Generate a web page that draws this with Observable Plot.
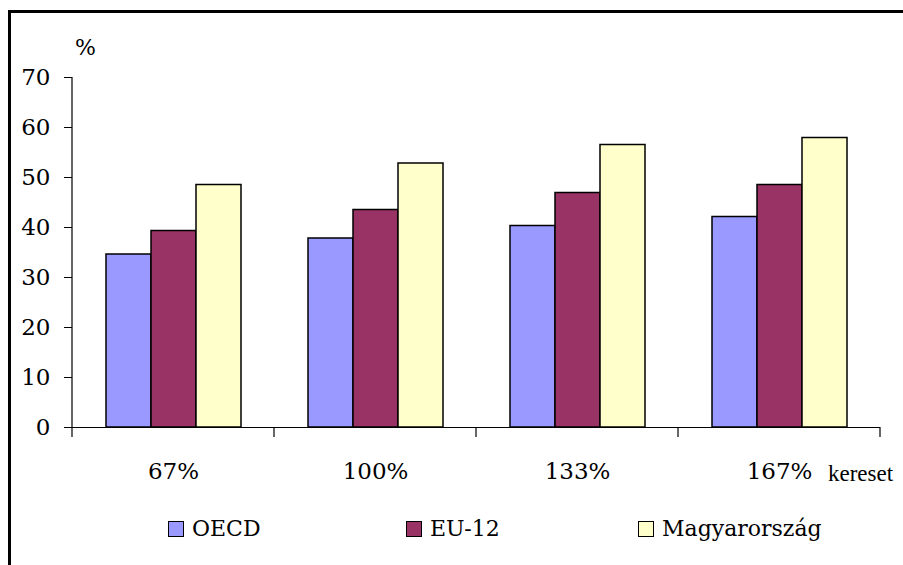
<!DOCTYPE html>
<html>
<head>
<meta charset="utf-8">
<script src="https://cdn.jsdelivr.net/npm/d3@7"></script>
<script src="https://cdn.jsdelivr.net/npm/@observablehq/plot@0.6"></script>
<style>
  html, body { margin: 0; padding: 0; background: #fff; overflow: hidden; }
  #wrap { position: relative; width: 903px; height: 565px; overflow: hidden; font-family: "DejaVu Serif", "Liberation Serif", serif; color: #000; }
  #frame { position: absolute; left: 8px; top: 10px; width: 1000px; height: 1000px; border-left: 3px solid #000; border-top: 3px solid #000; }
  #chart { position: absolute; left: 0; top: 0; }
  #chart svg text { font-family: "DejaVu Serif", "Liberation Serif", serif !important; }
  .lbl { position: absolute; font-size: 22px; line-height: 22px; white-space: nowrap; }
  .item { position: absolute; top: 518px; height: 22px; display: flex; align-items: center; font-size: 22px; line-height: 22px; white-space: nowrap; }
  .sw { width: 14px; height: 14px; border: 1.5px solid #000; margin-right: 8px; }
</style>
</head>
<body>
<div id="wrap">
  <div id="frame"></div>
  <div id="chart"></div>
  <div class="lbl" style="left:75px; top:37px;">%</div>
  <div class="lbl" style="left:828px; top:463px; font-family:'Liberation Serif', serif; font-size:23px;">kereset</div>
  <div id="legend"></div>
</div>
<script>
const categories = ["67%", "100%", "133%", "167%"];
const series = ["OECD", "EU-12", "Magyarország"];
const oecd = [34.6, 37.8, 40.3, 42.1];
const eu12 = [39.3, 43.5, 46.9, 48.5];
const magyarorszag = [48.5, 52.8, 56.5, 57.9];
const colors = ["#9999FF", "#993366", "#FFFFCC"];
const yTicks = [0, 10, 20, 30, 40, 50, 60, 70];

const valuesBySeries = [oecd, eu12, magyarorszag];
const data = [];
categories.forEach((c, i) => {
  series.forEach((s, j) => data.push({cat: c, series: s, value: valuesBySeries[j][i]}));
});

const plot = Plot.plot({
  width: 903,
  height: 500,
  marginLeft: 71,
  marginRight: 23,
  marginTop: 77,
  marginBottom: 73,
  style: {fontFamily: "DejaVu Serif, Liberation Serif, serif", fontSize: "23px", color: "#000", background: "transparent"},
  fx: {domain: categories, paddingInner: 0, paddingOuter: 0, label: null, axis: "bottom", tickSize: 0, tickPadding: 35},
  x: {domain: series, paddingInner: 0, paddingOuter: 0.73, axis: null},
  y: {domain: [0, 70], ticks: yTicks, tickSize: 8, tickPadding: 14, label: null, tickFormat: d => String(d)},
  color: {domain: series, range: colors},
  marks: [
    Plot.barY(data, {fx: "cat", x: "series", y: "value", fill: "series", stroke: "#000", strokeWidth: 1.5}),
    Plot.ruleY([0], {stroke: "#000", strokeWidth: 1.2})
  ]
});
document.getElementById("chart").appendChild(plot);

// axis line and category-boundary ticks, from the plot's own scales
const fxS = plot.scale("fx");
const yS = plot.scale("y");
const svg = d3.select(plot);
const x0 = fxS.apply(categories[0]);
const bw = fxS.bandwidth ?? (fxS.range[1] - fxS.range[0]) / categories.length;
const y0 = yS.apply(0), yTop = yS.apply(70);
svg.append("line").attr("x1", x0).attr("x2", x0).attr("y1", y0).attr("y2", yTop)
  .attr("stroke", "#000").attr("stroke-width", 1.2);
const bounds = categories.map(c => fxS.apply(c)).concat([fxS.apply(categories[categories.length - 1]) + bw]);
bounds.forEach(b => {
  svg.append("line").attr("x1", b).attr("x2", b).attr("y1", y0).attr("y2", y0 + 10)
    .attr("stroke", "#000").attr("stroke-width", 1.2);
});

// legend
const legendLefts = [168, 406, 638];
const legend = d3.select("#legend");
series.forEach((s, i) => {
  const it = legend.append("div").attr("class", "item").style("left", legendLefts[i] + "px");
  it.append("div").attr("class", "sw").style("background", colors[i]);
  it.append("span").text(s);
});
</script>
</body>
</html>
